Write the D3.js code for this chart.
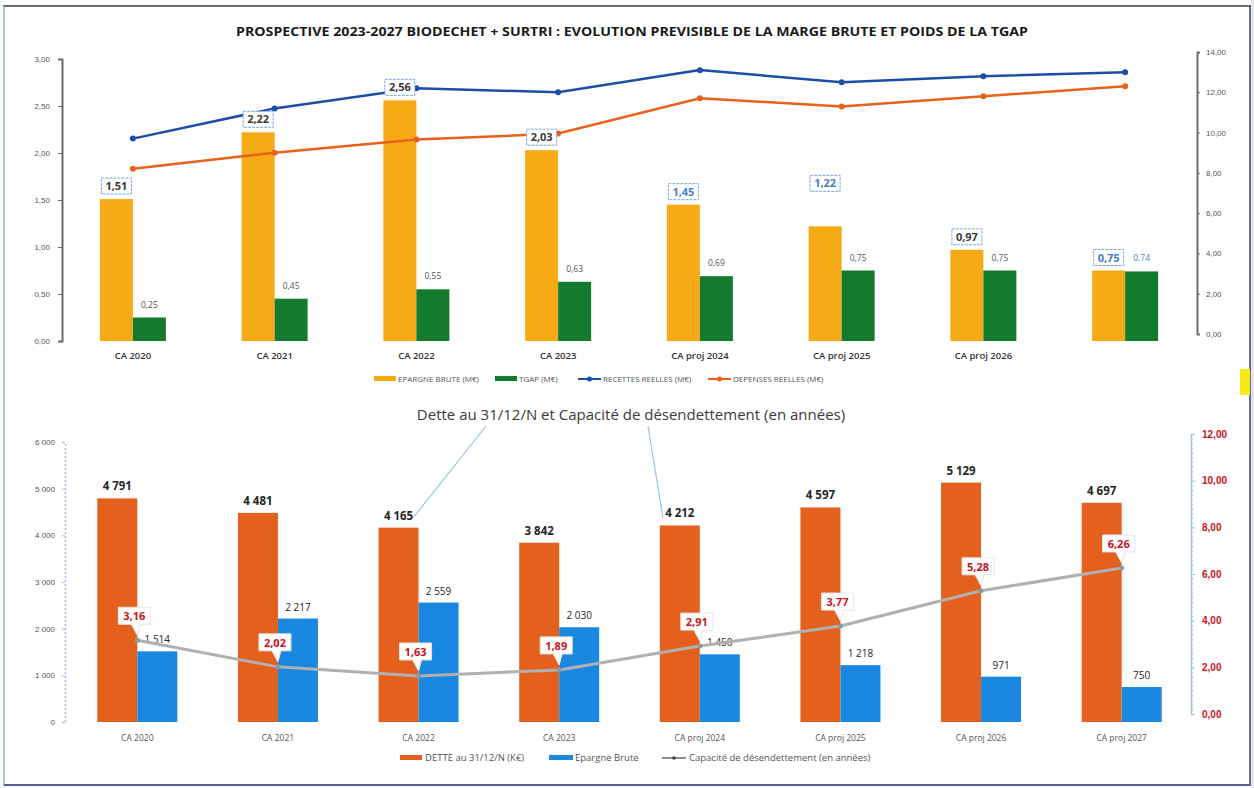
<!DOCTYPE html>
<html>
<head>
<meta charset="utf-8">
<script src="https://cdn.jsdelivr.net/npm/d3@7"></script>
<style>
  body { margin: 0; background: #fff; }
  svg { display: block; font-family: "Open Sans", "Liberation Sans", sans-serif; }
</style>
</head>
<body>
<svg id="chart" width="1254" height="788"></svg>
<script>
// ---- data: top chart (M€)
const topCats = ['CA 2020', 'CA 2021', 'CA 2022', 'CA 2023', 'CA proj 2024', 'CA proj 2025', 'CA proj 2026', 'CA proj 2027']
const topTickLabels = ['CA 2020', 'CA 2021', 'CA 2022', 'CA 2023', 'CA proj 2024', 'CA proj 2025', 'CA proj 2026', '']
const epargneBrute = [1.51, 2.22, 2.56, 2.03, 1.45, 1.22, 0.97, 0.75]
const tgap = [0.25, 0.45, 0.55, 0.63, 0.69, 0.75, 0.75, 0.74]
const recettes = [9.7, 11.2, 12.2, 12.0, 13.1, 12.5, 12.8, 13.0]
const depenses = [8.2, 9.0, 9.65, 9.95, 11.7, 11.3, 11.8, 12.3]

// ---- data: bottom chart (K€ / années)
const botCats = ['CA 2020', 'CA 2021', 'CA 2022', 'CA 2023', 'CA proj 2024', 'CA proj 2025', 'CA proj 2026', 'CA proj 2027']
const dette = [4791, 4481, 4165, 3842, 4212, 4597, 5129, 4697]
const epargneK = [1514, 2217, 2559, 2030, 1450, 1218, 971, 750]
const capacite = [3.16, 2.02, 1.63, 1.89, 2.91, 3.77, 5.28, 6.26]

const fr = d3.formatLocale({decimal: ',', thousands: ' ', grouping: [3], currency: ['', '€']})
const f2 = fr.format('.2f')
const fInt = fr.format(',d')

const svg = d3.select('#chart')

// scan frame
svg.append('rect').attr('x', 1251).attr('y', 0).attr('width', 3).attr('height', 788).attr('fill', '#e6e6e6')
svg.append('line').attr('x1', 3).attr('x2', 1251).attr('y1', 6).attr('y2', 6).attr('stroke', '#3a3a3a').attr('stroke-width', 1.5)
svg.append('line').attr('x1', 4).attr('x2', 4).attr('y1', 6).attr('y2', 786).attr('stroke', '#8fb0dc').attr('stroke-width', 1.5)
svg.append('line').attr('x1', 1250).attr('x2', 1250).attr('y1', 6).attr('y2', 786).attr('stroke', '#2e3f80').attr('stroke-width', 1.5)
svg.append('line').attr('x1', 4).attr('x2', 1251).attr('y1', 785).attr('y2', 785).attr('stroke', '#5a5f9a').attr('stroke-width', 2)
svg.append('rect').attr('x', 1240).attr('y', 369).attr('width', 10).attr('height', 26).attr('fill', '#f7e81a')

/* ================= TOP CHART ================= */
const topC = {
    x: d3.scaleBand().domain(topCats).range([62, 1196]),
    yL: d3.scaleLinear().domain([0, 3]).range([341, 59]),
    yR: d3.scaleLinear().domain([0, 14]).range([334, 52])
}
const tbw = 33

svg.append('text')
    .attr('x', 632).attr('y', 36)
    .attr('text-anchor', 'middle')
    .attr('textLength', 792).attr('lengthAdjust', 'spacingAndGlyphs')
    .style('font-size', '13px').style('font-weight', 'bold').style('fill', '#1a1a1a')
    .text('PROSPECTIVE 2023-2027 BIODECHET + SURTRI : EVOLUTION PREVISIBLE DE LA MARGE BRUTE ET POIDS DE LA TGAP')

// left axis
const axL = svg.append('g').attr('transform', 'translate(62,0)')
    .call(d3.axisLeft(topC.yL).tickValues(d3.range(0, 3.01, 0.5)).tickFormat(f2).tickSize(4))
axL.select('.domain').attr('stroke', '#6b6b6b').attr('stroke-width', 2)
axL.selectAll('.tick line').attr('stroke', '#6b6b6b')
axL.selectAll('.tick text').attr('x', -12).style('font-size', '8px').style('fill', '#555').style('font-family', 'Liberation Sans, sans-serif')

// right axis
const axR = svg.append('g').attr('transform', 'translate(1197,0)')
    .call(d3.axisRight(topC.yR).tickValues(d3.range(0, 14.01, 2)).tickFormat(f2).tickSize(3))
axR.select('.domain').attr('stroke', '#6b6b6b').attr('stroke-width', 2)
axR.selectAll('.tick line').attr('stroke', '#6b6b6b')
axR.selectAll('.tick text').attr('x', 9).style('font-size', '8px').style('fill', '#555').style('font-family', 'Liberation Sans, sans-serif')

// x labels
svg.append('g').selectAll('text').data(topCats).enter().append('text')
    .attr('x', d => topC.x(d) + topC.x.bandwidth() / 2)
    .attr('y', 359)
    .attr('text-anchor', 'middle')
    .style('font-size', '9.5px').style('font-weight', '600').style('fill', '#333')
    .text((d, i) => topTickLabels[i])

// bars
svg.append('g').selectAll('rect').data(epargneBrute).enter().append('rect')
    .attr('x', (d, i) => topC.x(topCats[i]) + topC.x.bandwidth() / 2 - tbw)
    .attr('y', d => topC.yL(d))
    .attr('width', tbw)
    .attr('height', d => topC.yL(0) - topC.yL(d))
    .attr('fill', '#f6ab16')
svg.append('g').selectAll('rect').data(tgap).enter().append('rect')
    .attr('x', (d, i) => topC.x(topCats[i]) + topC.x.bandwidth() / 2)
    .attr('y', d => topC.yL(d))
    .attr('width', tbw)
    .attr('height', d => topC.yL(0) - topC.yL(d))
    .attr('fill', '#137a2e')

// lines
const lineR = d3.line().x((d, i) => topC.x(topCats[i]) + topC.x.bandwidth() / 2).y(d => topC.yR(d))
function drawSeries(values, colour) {
    svg.append('path').datum(values).attr('d', lineR)
        .attr('fill', 'none').attr('stroke', colour).attr('stroke-width', 2.5)
    svg.append('g').selectAll('circle').data(values).enter().append('circle')
        .attr('cx', (d, i) => topC.x(topCats[i]) + topC.x.bandwidth() / 2)
        .attr('cy', d => topC.yR(d))
        .attr('r', 3).attr('fill', colour)
}
drawSeries(recettes, '#1c4ea6')
drawSeries(depenses, '#e8621e')

// epargne labels (boxed)
const blueLabel = [false, false, false, false, true, true, false, true]
const eLab = svg.append('g').selectAll('g').data(epargneBrute).enter().append('g')
    .attr('transform', (d, i) => {
        const cx = topC.x(topCats[i]) + topC.x.bandwidth() / 2 - tbw / 2
        const lift = i === 5 ? 43 : 13
        return `translate(${cx},${topC.yL(d) - lift})`
    })
eLab.append('rect').attr('x', -15).attr('y', -8).attr('width', 30).attr('height', 16)
    .attr('fill', '#fff').attr('stroke', '#7fa7dc').attr('stroke-width', 1).attr('stroke-dasharray', '3,1')
eLab.append('text').attr('y', 4).attr('text-anchor', 'middle')
    .style('font-size', '11px').style('font-weight', 'bold')
    .style('fill', (d, i) => blueLabel[i] ? '#4a7cc4' : '#3a3a3a')
    .text(d => f2(d))

// tgap labels
svg.append('g').selectAll('text').data(tgap).enter().append('text')
    .attr('x', (d, i) => topC.x(topCats[i]) + topC.x.bandwidth() / 2 + tbw / 2)
    .attr('y', d => topC.yL(d) - 10)
    .attr('text-anchor', 'middle')
    .style('font-size', '8.5px')
    .style('fill', (d, i) => i === 7 ? '#4a7cc4' : '#555')
    .text(d => f2(d))

// legend top
const legTop = svg.append('g').attr('transform', 'translate(0,379)').style('font-size', '8px').style('fill', '#555')
legTop.append('rect').attr('x', 374).attr('y', -3).attr('width', 22).attr('height', 5).attr('fill', '#f6ab16')
legTop.append('text').attr('x', 398).attr('y', 3).text('EPARGNE BRUTE (M€)')
legTop.append('rect').attr('x', 495).attr('y', -3).attr('width', 22).attr('height', 5).attr('fill', '#137a2e')
legTop.append('text').attr('x', 519).attr('y', 3).text('TGAP (M€)')
legTop.append('line').attr('x1', 578).attr('x2', 601).attr('y1', 0).attr('y2', 0).attr('stroke', '#1c4ea6').attr('stroke-width', 2)
legTop.append('circle').attr('cx', 589.5).attr('cy', 0).attr('r', 2.5).attr('fill', '#1c4ea6')
legTop.append('text').attr('x', 603).attr('y', 3).text('RECETTES REELLES (M€)')
legTop.append('line').attr('x1', 708).attr('x2', 731).attr('y1', 0).attr('y2', 0).attr('stroke', '#e8621e').attr('stroke-width', 2)
legTop.append('circle').attr('cx', 719.5).attr('cy', 0).attr('r', 2.5).attr('fill', '#e8621e')
legTop.append('text').attr('x', 733).attr('y', 3).text('DEPENSES REELLES (M€)')

/* ================= BOTTOM CHART ================= */
const botC = {
    x: d3.scaleBand().domain(botCats).range([67, 1192]),
    yL: d3.scaleLinear().domain([0, 6000]).range([722, 442]),
    yR: d3.scaleLinear().domain([0, 12]).range([714, 434])
}
const bbw = 40

svg.append('text')
    .attr('x', 631).attr('y', 420)
    .attr('text-anchor', 'middle')
    .style('font-size', '15px').style('fill', '#3a3a3a')
    .text('Dette au 31/12/N et Capacité de désendettement (en années)')

// stray leader lines from the scan
svg.append('line').attr('x1', 486).attr('y1', 426).attr('x2', 413).attr('y2', 518).attr('stroke', '#9fc3df').attr('stroke-width', 1.2)
svg.append('line').attr('x1', 648).attr('y1', 426).attr('x2', 663).attr('y2', 518).attr('stroke', '#9fc3df').attr('stroke-width', 1.2)

// left axis
const bL = svg.append('g').attr('transform', 'translate(65,0)')
    .call(d3.axisLeft(botC.yL).tickValues(d3.range(0, 6001, 1000)).tickFormat(fInt).tickSize(3))
bL.select('.domain').attr('stroke', '#9fbfdc').attr('stroke-width', 1.5).attr('stroke-dasharray', '2,2')
bL.selectAll('.tick line').attr('stroke', '#9fbfdc')
bL.selectAll('.tick text').attr('x', -10).style('font-size', '8px').style('fill', '#555').style('font-family', 'Liberation Sans, sans-serif')

// right axis with minor ticks
svg.append('g').attr('transform', 'translate(1191,0)')
    .call(d3.axisRight(botC.yR).ticks(48).tickFormat('').tickSize(2))
    .call(g => g.select('.domain').attr('stroke', '#a9bfd3').attr('stroke-width', 1.5))
    .call(g => g.selectAll('.tick line').attr('stroke', '#a9bfd3'))
const bR = svg.append('g').attr('transform', 'translate(1191,0)')
    .call(d3.axisRight(botC.yR).tickValues(d3.range(0, 12.01, 2)).tickFormat(f2).tickSize(4))
bR.select('.domain').remove()
bR.selectAll('.tick line').attr('stroke', '#a9bfd3')
bR.selectAll('.tick text').attr('x', 11).style('font-size', '10px').style('font-weight', 'bold').style('fill', '#c8141e')

// x labels
svg.append('g').selectAll('text').data(botCats).enter().append('text')
    .attr('x', d => botC.x(d) + botC.x.bandwidth() / 2)
    .attr('y', 741)
    .attr('text-anchor', 'middle')
    .style('font-size', '8.5px').style('fill', '#555')
    .text(d => d)

// bars
svg.append('g').selectAll('rect').data(dette).enter().append('rect')
    .attr('x', (d, i) => botC.x(botCats[i]) + botC.x.bandwidth() / 2 - bbw)
    .attr('y', d => botC.yL(d))
    .attr('width', bbw)
    .attr('height', d => botC.yL(0) - botC.yL(d))
    .attr('fill', '#e4601c')
svg.append('g').selectAll('rect').data(epargneK).enter().append('rect')
    .attr('x', (d, i) => botC.x(botCats[i]) + botC.x.bandwidth() / 2)
    .attr('y', d => botC.yL(d))
    .attr('width', bbw)
    .attr('height', d => botC.yL(0) - botC.yL(d))
    .attr('fill', '#1a87e0')

// bar labels
svg.append('g').selectAll('text').data(dette).enter().append('text')
    .attr('x', (d, i) => botC.x(botCats[i]) + botC.x.bandwidth() / 2 - bbw / 2)
    .attr('y', d => botC.yL(d) - 8)
    .attr('text-anchor', 'middle')
    .style('font-size', '11.5px').style('font-weight', 'bold').style('fill', '#262626')
    .text(d => fInt(d))
svg.append('g').selectAll('text').data(epargneK).enter().append('text')
    .attr('x', (d, i) => botC.x(botCats[i]) + botC.x.bandwidth() / 2 + bbw / 2)
    .attr('y', d => botC.yL(d) - 8)
    .attr('text-anchor', 'middle')
    .style('font-size', '10px').style('fill', '#262626')
    .text(d => fInt(d))

// capacity line
const capLine = d3.line().x((d, i) => botC.x(botCats[i]) + botC.x.bandwidth() / 2).y(d => botC.yR(d))
svg.append('path').datum(capacite).attr('d', capLine)
    .attr('fill', 'none').attr('stroke', '#b0b0b0').attr('stroke-width', 3)
svg.append('g').selectAll('circle').data(capacite).enter().append('circle')
    .attr('cx', (d, i) => botC.x(botCats[i]) + botC.x.bandwidth() / 2)
    .attr('cy', d => botC.yR(d))
    .attr('r', 2.5).attr('fill', '#8c9aa8')

// capacity callouts
const cLab = svg.append('g').selectAll('g').data(capacite).enter().append('g')
    .attr('transform', (d, i) => `translate(${botC.x(botCats[i]) + botC.x.bandwidth() / 2},${botC.yR(d)})`)
cLab.append('path')
    .attr('d', 'M-19,-33 H13 V-16 H3 L0,-5 L-6,-16 H-19 Z')
    .attr('fill', '#fff').attr('stroke', '#e6e6e6').attr('stroke-width', 1)
cLab.append('text').attr('x', -3).attr('y', -20).attr('text-anchor', 'middle')
    .style('font-size', '11px').style('font-weight', 'bold').style('fill', '#c8141e')
    .text(d => f2(d))

// legend bottom
const legBot = svg.append('g').attr('transform', 'translate(0,758)').style('font-size', '9.5px').style('fill', '#555')
legBot.append('rect').attr('x', 400).attr('y', -3).attr('width', 22).attr('height', 5).attr('fill', '#e4601c')
legBot.append('text').attr('x', 425).attr('y', 3).text('DETTE au 31/12/N (K€)')
legBot.append('rect').attr('x', 549).attr('y', -3).attr('width', 24).attr('height', 5).attr('fill', '#1a87e0')
legBot.append('text').attr('x', 575).attr('y', 3).text('Epargne Brute')
legBot.append('line').attr('x1', 662).attr('x2', 686).attr('y1', 0).attr('y2', 0).attr('stroke', '#444').attr('stroke-width', 1.2)
legBot.append('circle').attr('cx', 674).attr('cy', 0).attr('r', 1.8).attr('fill', '#444')
legBot.append('text').attr('x', 689).attr('y', 3).text('Capacité de désendettement (en années)')
</script>
</body>
</html>
